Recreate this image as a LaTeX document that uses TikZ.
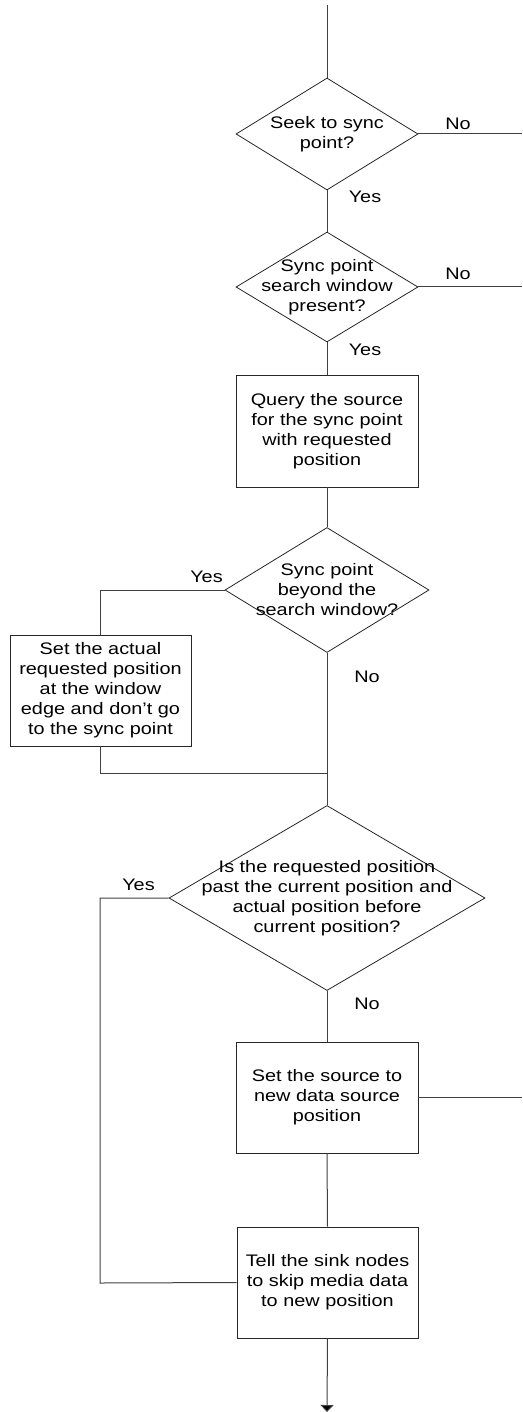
\documentclass[tikz,border=0pt]{standalone}
\usepackage{fontspec}
\setmainfont{Liberation Sans}[FakeStretch=1.19]
\usetikzlibrary{shapes.geometric,arrows.meta}
\begin{document}
\begin{tikzpicture}[x=1pt,y=-1pt,
  every node/.style={font=\fontsize{16.7}{20}\selectfont},
  dia/.style={shape=diamond,draw=black!85,line width=0.8pt,inner sep=0pt},
  box/.style={shape=rectangle,draw=black!85,line width=0.8pt,inner sep=0pt,align=center},
  txt/.style={align=center,inner sep=0pt},
  lbl/.style={inner sep=0pt},
  conn/.style={draw=black!75,line width=1pt},
]
\useasboundingbox (0,0) rectangle (522,1412);

% shapes
\node[dia,minimum width=182pt,minimum height=112pt] (d1) at (327,134) {};
\node[txt] (t1) at (d1) {Seek to sync\\point?};
\node[dia,minimum width=182pt,minimum height=110pt] (d2) at (327,287) {};
\node[txt] (t2) at (d2) {Sync point\\search window\\present?};
\node[box,minimum width=182pt,minimum height=112pt] (b1) at (327,431) {Query the source\\for the sync point\\with requested\\position};
\node[dia,minimum width=204pt,minimum height=125pt] (d3) at (327,590) {};
\node[txt] (t3) at (d3) {Sync point\\beyond the\\search window?};
\node[box,minimum width=181pt,minimum height=111pt] (b2) at (100.5,690.5) {Set the actual\\requested position\\at the window\\edge and don’t go\\to the sync point};
\node[dia,minimum width=316pt,minimum height=185pt] (d4) at (327,898) {};
\node[txt] (t4) at (d4) {Is the requested position\\past the current position and\\actual position before\\current position?};
\node[box,minimum width=182pt,minimum height=111pt] (b4) at (327,1097.5) {Set the source to\\new data source\\position};
\node[box,minimum width=181pt,minimum height=111pt] (b5) at (327.5,1282.5) {Tell the sink nodes\\to skip media data\\to new position};

% free ends
\coordinate (top) at (327,5);
\coordinate (e1) at (522,134);
\coordinate (e2) at (522,287);
\coordinate (j1) at (327,773);
\coordinate (c4) at (100,1283);
\coordinate (e4) at (522,1097.5);
\coordinate (bot) at (327,1412);

% connectors
\draw[conn] (top) -- (d1.north);
\draw[conn] (d1.east) -- (e1);
\draw[conn] (d1.south) -- (d2.north);
\draw[conn] (d2.east) -- (e2);
\draw[conn] (d2.south) -- (b1.north);
\draw[conn] (b1.south) -- (d3.north);
\draw[conn] (d3.west) -| (b2.north);
\draw[conn] (b2.south) |- (j1);
\draw[conn] (d3.south) -- (d4.north);
\draw[conn] (d4.west) -| (c4) -- (b5.west);
\draw[conn] (d4.south) -- (b4.north);
\draw[conn] (b4.east) -- (e4);
\draw[conn] (b4.south) -- (b5.north);
\draw[conn,-{Triangle[width=13pt,length=7pt,fill=black]}] (b5.south) -- (bot);

% labels
\node[lbl] (n1) at (458,124) {No};
\node[lbl] (y1) at (365,197) {Yes};
\node[lbl] (n2) at (458,274) {No};
\node[lbl] (y2) at (365,350) {Yes};
\node[lbl] (y3) at (206.5,577) {Yes};
\node[lbl] (n3) at (367,677) {No};
\node[lbl] (y4) at (138.5,885) {Yes};
\node[lbl] (n4) at (367,1004) {No};
\end{tikzpicture}
\end{document}
